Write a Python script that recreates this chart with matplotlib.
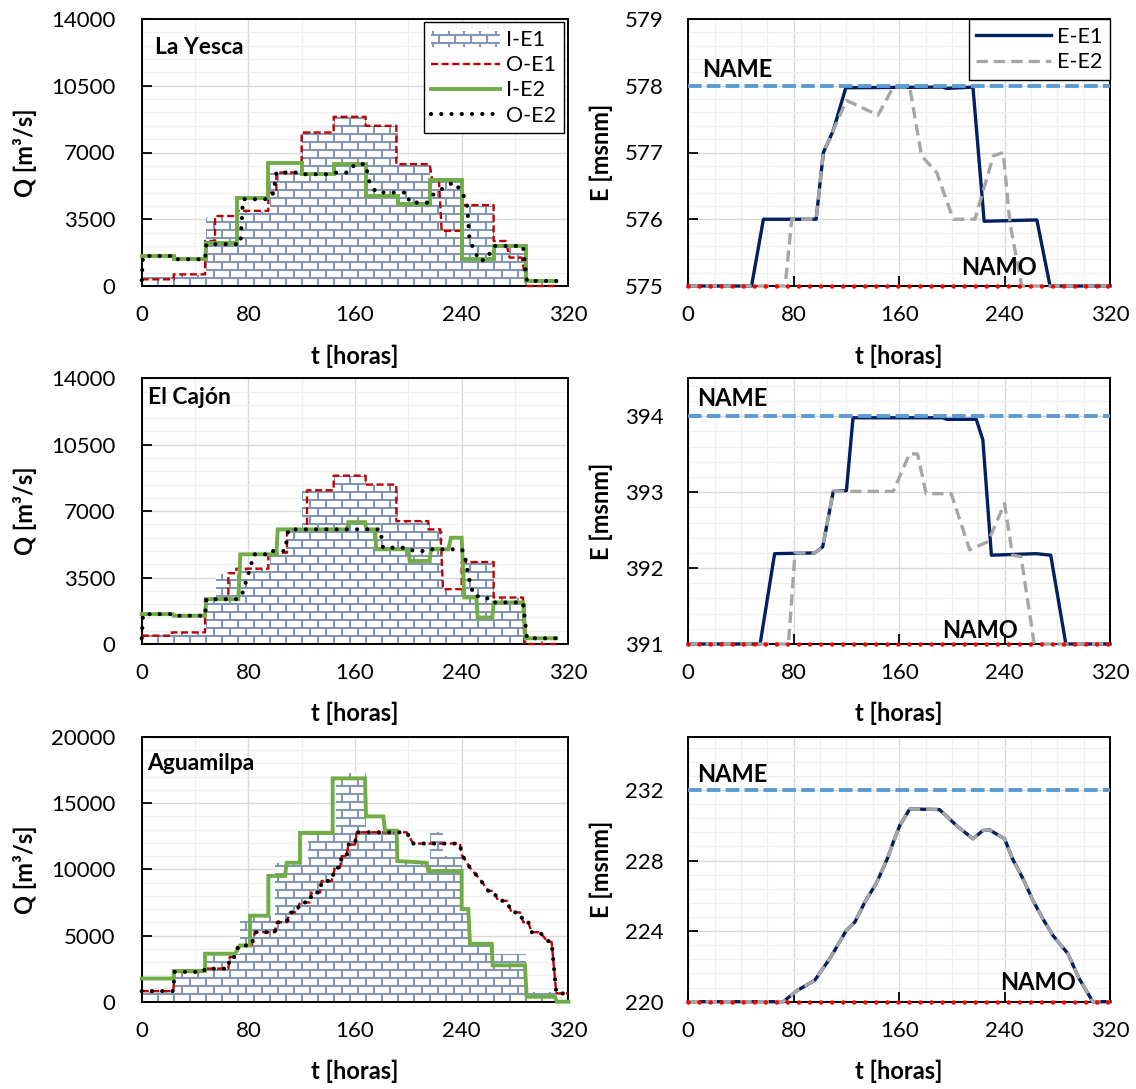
import matplotlib
matplotlib.use("Agg")
import matplotlib.pyplot as plt
from matplotlib.collections import LineCollection
from matplotlib.legend_handler import HandlerBase
from matplotlib.patches import Rectangle
from matplotlib.ticker import MultipleLocator, AutoMinorLocator, StrMethodFormatter

plt.rcParams['font.family'] = ['Lato', 'DejaVu Sans']

# ---------------- data ----------------
hours_ticks = [0, 80, 160, 240, 320]

# La Yesca: inflow/outflow hydrographs
ly_in1_edges = [0, 24, 48, 72, 96, 120, 144, 168, 192, 216, 240, 264, 288, 310]
ly_in1_q = [450, 600, 3600, 3900, 5950, 8050, 8900, 8400, 6400, 5500, 4200, 2200, 250]

ly_out1_t = [0, 24, 24, 47.5, 47.5, 55, 55, 71, 71, 95, 95, 101, 101, 120, 120, 144, 144,
             168, 168, 191, 191, 216, 218, 223, 225, 240, 240, 264, 264, 273, 276, 285, 289, 310]
ly_out1_q = [350, 350, 610, 610, 2360, 2360, 3670, 3670, 3940, 3940, 4900, 4900, 5950, 5950, 8050, 8050, 8870,
             8870, 8400, 8400, 6390, 6390, 5500, 5500, 2890, 2890, 4240, 4240, 2360, 2360, 1490, 1490, 0, 0]

ly_in2_t = [0, 24, 24, 48, 48, 71.5, 71.5, 95, 95, 120, 120, 144, 144, 168, 168, 192, 192,
            216, 216, 240, 240, 264, 264, 288, 288, 311]
ly_in2_q = [1575, 1575, 1400, 1400, 2275, 2275, 4640, 4640, 6475, 6475, 5860, 5860, 6390, 6390, 4725, 4725, 4320,
            4320, 5550, 5550, 1400, 1400, 2100, 2100, 262, 262]

ly_out2_t = [0, 1, 23, 24, 47.5, 48.5, 74, 76, 95, 99, 101, 119, 121, 141, 146, 155, 160, 168, 171, 176,
             199, 201, 214, 219, 225, 231, 235, 241, 244, 246, 250, 253, 259, 263, 265, 286, 289, 311]
ly_out2_q = [300, 1575, 1575, 1400, 1400, 2190, 2190, 4550, 4550, 4900, 5950, 5950, 5860, 5860, 5950, 5950, 6390,
             6390, 5400, 4900, 4900, 4375, 4375, 4810, 5075, 5340, 5425, 4810, 4290, 2360, 1840, 1310, 1400,
             2010, 2100, 2100, 262, 262]

# El Cajón
ec_in1_edges = [0, 24, 48, 56, 72, 96, 108, 120, 144, 168, 192, 216, 226, 240, 264, 288, 310]
ec_in1_q = [450, 610, 2400, 3675, 3970, 4810, 6040, 8140, 8870, 8400, 6475, 6040, 2890, 4320, 2450, 150]

ec_out1_t = [0, 22.5, 22.5, 47.5, 47.5, 65, 65, 71, 71, 95, 95, 109, 109, 124, 124, 144, 144, 168, 168,
             191, 191, 215, 215, 224, 226, 240, 240, 264, 264, 286, 287, 311]
ec_out1_q = [440, 440, 610, 610, 2400, 2400, 3730, 3730, 3970, 3970, 4810, 4810, 6040, 6040, 8100, 8100, 8870,
             8870, 8400, 8400, 6475, 6475, 6040, 6040, 2890, 2890, 4320, 4320, 2450, 2450, 0, 0]

ec_in2_t = [0, 23, 24, 47.5, 48.5, 72.5, 74, 101, 102, 154, 155, 167.5, 168.5, 175, 176, 200, 201,
            216, 217, 230, 232, 240, 242, 251, 252, 263, 264, 286, 288, 311]
ec_in2_q = [1575, 1575, 1490, 1490, 2360, 2360, 4725, 4725, 6040, 6040, 6420, 6420, 6040, 6040, 4990, 4990, 4375,
            4375, 4990, 4990, 5600, 5600, 2450, 2450, 1400, 1400, 2190, 2190, 300, 300]

ec_out2_t = [0, 1, 23, 24, 47.5, 48.5, 72, 75, 81, 82.5, 84, 96, 97, 107.5, 110, 179, 181, 199, 204, 214,
             216, 240, 242, 245, 249, 259, 261, 286, 289, 311]
ec_out2_q = [300, 1575, 1575, 1490, 1490, 2360, 2360, 2540, 3940, 4290, 4725, 4725, 4900, 4900, 6040, 6040, 5075,
             5075, 4900, 4900, 4990, 4990, 4810, 3590, 2540, 2450, 2190, 2190, 300, 300]

# Aguamilpa
ag_in1_edges = [0, 24, 48, 74, 100, 125, 146, 168, 192, 216, 226, 240, 246, 264, 288, 310]
ag_in1_q = [700, 2250, 3600, 6500, 10500, 12750, 17250, 12750, 10600, 12800, 11000, 7000, 4400, 3600, 700]

ag_in2_t = [0, 24, 24, 47.5, 47.5, 70, 73.75, 81.25, 81.25, 95, 95, 107.5, 108.75, 118.75, 118.75, 143.25,
            143.25, 167.5, 168.25, 181.25, 182.5, 191.25, 191.75, 213.75, 215, 240, 240, 245, 246.25, 262.5,
            263.25, 287.5, 288.75, 310, 311.25, 320]
ag_in2_q = [1750, 1750, 2325, 2325, 3625, 3625, 4250, 4250, 6500, 6500, 9500, 9500, 10500, 10500, 12750, 12750,
            16875, 16875, 14000, 14000, 12925, 12925, 10625, 10500, 9875, 9875, 7000, 7000, 4375, 4375,
            2750, 2750, 375, 375, 0, 0]

ag_out_t = [0, 23.75, 24.5, 46.25, 47.5, 65, 66, 70, 72.5, 82.5, 85, 100, 101.25, 108.75, 111.25, 116.25,
            118.75, 126.25, 127.5, 133.75, 135, 142.5, 145, 148.75, 150, 153.75, 155, 160, 161.25, 198.75,
            203.75, 238.75, 240, 246.25, 253.75, 260, 263.75, 267.5, 273.75, 277.5, 283.75, 286.25, 290,
            292.5, 298.75, 303.75, 307.5, 311, 320]
ag_out_q = [800, 800, 2250, 2250, 2500, 2500, 3375, 3375, 4250, 4250, 5250, 5250, 6000, 6000, 6750, 6750,
            7500, 7500, 8250, 8250, 9125, 9125, 10125, 10125, 11000, 11000, 11875, 11875, 12800, 12800,
            11950, 11950, 11125, 10125, 9250, 8375, 8375, 7625, 7625, 6750, 6750, 6000, 6000,
            5250, 5250, 4625, 4500, 625, 625]

# Reservoir levels
ly_e1_t = [0, 48, 57, 97, 102.5, 110, 119.5, 193, 196, 216, 224.5, 264.5, 274.5, 320]
ly_e1_e = [575, 575, 576, 576, 577, 577.33, 577.97, 577.98, 577.96, 577.98, 575.97, 575.99, 575, 575]
ly_e2_t = [0, 73.5, 78.5, 97, 102.5, 110, 120, 144, 155.5, 168, 177, 188.5, 201, 217.5, 231.5, 239, 244, 253, 320]
ly_e2_e = [575, 575, 576, 576, 577, 577.33, 577.78, 577.56, 577.98, 577.98, 576.95, 576.7, 576.0, 576.0,
           576.95, 577.0, 575.95, 575, 575]

ec_e1_t = [0, 54.5, 65.5, 96, 102, 110, 120, 125, 193, 196, 218.5, 223.5, 230, 264, 275, 286.5, 320]
ec_e1_e = [391, 391, 392.19, 392.2, 392.28, 393.01, 393.02, 393.98, 393.98, 393.96, 393.96, 393.69, 392.17,
           392.19, 392.17, 391, 391]
ec_e2_t = [0, 76, 81, 96, 102, 110, 155.5, 168, 174, 180.5, 199.5, 213.5, 227.5, 240, 246, 252.5, 262.5, 320]
ec_e2_e = [391, 391, 392.2, 392.2, 392.28, 393.01, 393.01, 393.51, 393.5, 392.98, 392.98, 392.24, 392.35,
           392.85, 392.17, 392.15, 391, 391]

ag_e_t = [0, 72, 82, 96, 107.5, 120, 126.5, 134, 142.5, 146.5, 151.5, 155.5, 160.5, 168, 190.5, 195.5, 203.5,
          216, 223.5, 228.5, 240, 246, 254, 261.5, 269, 276.5, 288, 296.5, 307, 320]
ag_e_e = [220, 220, 220.6, 221.22, 222.45, 224.05, 224.52, 225.65, 226.69, 227.34, 228.19, 229.04, 229.98,
          230.92, 230.89, 230.55, 229.98, 229.23, 229.7, 229.74, 229.23, 228.1, 226.97, 225.74, 224.71,
          223.77, 222.73, 221.32, 220, 220]

levels_name = [578, 394, 232]
levels_namo = [575, 391, 220]
dam_names = ['La Yesca', 'El Cajón', 'Aguamilpa']

# ---------------- style ----------------
C_BRICK = '#8497B0'
C_RED = '#C00000'
C_GREEN = '#70AD47'
C_NAVY = '#002060'
C_GRAY = '#A6A6A6'
C_BLUE = '#5B9BD5'
C_NAMO = '#FF0000'

TICK_FS = 16
LABEL_FS = 17
LEG_FS = 15.5

FW, FH = 1136, 1089
fig = plt.figure(figsize=(FW / 100, FH / 100), dpi=100, facecolor='white')

col_px = [(141.7, 568.3), (688.3, 1110.0)]
row_px = [(19.0, 286.0), (378.3, 644.0), (737.0, 1001.7)]


def make_axes(col, row):
    x0, x1 = col_px[col]
    y0, y1 = row_px[row]
    ax = fig.add_axes([x0 / FW, 1 - y1 / FH, (x1 - x0) / FW, (y1 - y0) / FH])
    return ax, (x1 - x0), (y1 - y0)


def style_axes(ax, ypad, minor_x):
    ax.set_xlim(0, 320)
    ax.xaxis.set_major_locator(MultipleLocator(80))
    ax.xaxis.set_minor_locator(AutoMinorLocator(minor_x))
    ax.yaxis.set_minor_locator(AutoMinorLocator(5))
    ax.yaxis.set_major_formatter(StrMethodFormatter('{x:.0f}'))
    ax.set_axisbelow(True)
    ax.grid(which='major', color='#D9D9D9', lw=1.0)
    ax.grid(which='minor', color='#EFEFEF', lw=0.9)
    ax.tick_params(which='major', direction='in', length=7, width=1.3, color='black', labelsize=TICK_FS)
    ax.tick_params(axis='x', which='major', pad=14)
    ax.tick_params(axis='y', which='major', pad=ypad)
    ax.tick_params(which='minor', length=0)
    for s in ax.spines.values():
        s.set_linewidth(1.4)
        s.set_color('black')
    ax.set_xlabel('t [horas]', fontsize=LABEL_FS, fontweight='bold')
    ax.xaxis.set_label_coords(0.5, -0.218)


def brick_fill(ax, W, H, edges, values):
    vals = list(values) + [values[-1]]
    fb = ax.fill_between(edges, vals, step='post', facecolor='white', edgecolor='none', lw=0, zorder=1.5)
    row, brick = 8.0, 16.0
    segs = []
    nrows = int(H / row) + 1
    for k in range(nrows + 1):
        y = k * row / H
        segs.append([(0, y), (1, y)])
    for k in range(nrows):
        ya, yb = k * row / H, (k + 1) * row / H
        x = (k % 2) * brick / 2
        while x <= W:
            segs.append([(x / W, ya), (x / W, yb)])
            x += brick
    lc = LineCollection(segs, colors=C_BRICK, linewidths=1.5, transform=ax.transAxes, zorder=1.6)
    ax.add_collection(lc, autolim=False)
    lc.set_clip_path(fb.get_paths()[0], ax.transData)
    return fb


class BrickHandler(HandlerBase):
    def create_artists(self, legend, orig_handle, xdescent, ydescent, width, height, fontsize, trans):
        x0, y0 = -xdescent, -ydescent
        ya, yb = y0 + height * 0.2, y0 + height * 0.72
        bw = 11.5
        segs = [[(x0, ya), (x0 + width, ya)], [(x0, yb), (x0 + width, yb)]]
        x = x0 + bw / 2
        while x < x0 + width:
            segs.append([(x, ya), (x, yb)])
            x += bw
        x = x0 + 1
        while x < x0 + width:
            segs.append([(x, yb), (x, yb + 3.0)])
            segs.append([(x, ya - 3.0), (x, ya)])
            x += bw
        lc = LineCollection(segs, colors=C_BRICK, linewidths=1.5, transform=trans)
        return [lc]


flow_data = [
    (ly_in1_edges, ly_in1_q, ly_out1_t, ly_out1_q, ly_in2_t, ly_in2_q, ly_out2_t, ly_out2_q),
    (ec_in1_edges, ec_in1_q, ec_out1_t, ec_out1_q, ec_in2_t, ec_in2_q, ec_out2_t, ec_out2_q),
    (ag_in1_edges, ag_in1_q, ag_out_t, ag_out_q, ag_in2_t, ag_in2_q, ag_out_t, ag_out_q),
]
flow_ylim = [(0, 14000, 3500), (0, 14000, 3500), (0, 20000, 5000)]
title_pos = [(0.031, 0.894), (0.015, 0.926), (0.012, 0.90)]

level_data = [
    (ly_e1_t, ly_e1_e, ly_e2_t, ly_e2_e),
    (ec_e1_t, ec_e1_e, ec_e2_t, ec_e2_e),
    (ag_e_t, ag_e_e, ag_e_t, ag_e_e),
]
level_ylim = [(575, 579, 1), (391, 394.5, 1), (220, 235, 4)]
name_pos = [(0.032, 0.809), (0.020, 0.924), (0.020, 0.859)]
namo_pos = [(0.648, 0.070), (0.601, 0.050), (0.739, 0.071)]

for r in range(3):
    # ---- discharge panel ----
    ax, W, H = make_axes(0, r)
    in1_e, in1_q, o1_t, o1_q, in2_t, in2_q, o2_t, o2_q = flow_data[r]
    lo, hi, step = flow_ylim[r]
    ax.set_ylim(lo, hi)
    ax.yaxis.set_major_locator(MultipleLocator(step))
    style_axes(ax, ypad=19, minor_x=2)
    ax.set_ylabel('Q [m³/s]', fontsize=LABEL_FS, fontweight='bold')
    ax.yaxis.set_label_coords(-0.246, 0.5)
    ax.set_xticks(hours_ticks)

    brick_fill(ax, W, H, in1_e, in1_q)
    l_o1, = ax.plot(o1_t, o1_q, color=C_RED, lw=1.7, ls=(0, (3.0, 1.5)), zorder=2.6, clip_on=False)
    l_i2, = ax.plot(in2_t, in2_q, color=C_GREEN, lw=2.8, zorder=2.7, clip_on=False,
                    solid_joinstyle='miter')
    l_o2, = ax.plot(o2_t, o2_q, color='black', lw=3.0, ls=(0, (0.01, 2.45)), dash_capstyle='round',
                    zorder=2.8, clip_on=False)
    ax.text(*title_pos[r], dam_names[r], transform=ax.transAxes, fontsize=16.5, fontweight='bold',
            ha='left', va='center')

    if r == 0:
        brick_handle = Rectangle((0, 0), 1, 1)
        leg = ax.legend([brick_handle, l_o1, l_i2, l_o2], ['I-E1', 'O-E1', 'I-E2', 'O-E2'],
                        handler_map={brick_handle: BrickHandler()},
                        loc='upper right', bbox_to_anchor=(0.99, 0.987), borderaxespad=0,
                        fontsize=LEG_FS, handlelength=3.2, handletextpad=0.3, labelspacing=0.24,
                        borderpad=0.35, fancybox=False, framealpha=1, edgecolor='black')
        leg.get_frame().set_linewidth(1.0)
        leg.set_zorder(5)

    # ---- water level panel ----
    ax, W, H = make_axes(1, r)
    e1_t, e1_e, e2_t, e2_e = level_data[r]
    lo, hi, step = level_ylim[r]
    ax.set_ylim(lo, hi)
    ax.yaxis.set_major_locator(MultipleLocator(step))
    style_axes(ax, ypad=18, minor_x=4)
    ax.set_ylabel('E [msnm]', fontsize=LABEL_FS, fontweight='bold')
    ax.yaxis.set_label_coords(-0.178, 0.5)
    ax.set_xticks(hours_ticks)

    l_e1, = ax.plot(e1_t, e1_e, color=C_NAVY, lw=2.4, zorder=2.6, clip_on=False)
    l_e2, = ax.plot(e2_t, e2_e, color=C_GRAY, lw=2.4, ls=(0, (3.4, 1.8)), zorder=2.7, clip_on=False)
    ax.plot([0, 320], [levels_name[r]] * 2, color=C_BLUE, lw=2.8, ls=(0, (3.5, 1.35)), zorder=2.8,
            clip_on=False)
    ax.plot([0, 320], [levels_namo[r]] * 2, color=C_NAMO, lw=3.3, ls=(0, (0.01, 2.4)),
            dash_capstyle='round', zorder=3.0, clip_on=False)
    ax.text(*name_pos[r], 'NAME', transform=ax.transAxes, fontsize=17, fontweight='bold',
            ha='left', va='center')
    ax.text(*namo_pos[r], 'NAMO', transform=ax.transAxes, fontsize=17, fontweight='bold',
            ha='left', va='center')

    if r == 0:
        leg = ax.legend([l_e1, l_e2], ['E-E1', 'E-E2'], loc='upper right', bbox_to_anchor=(1.0, 1.0),
                        borderaxespad=0, fontsize=LEG_FS, handlelength=3.45, handletextpad=0.3,
                        labelspacing=0.26, borderpad=0.35, fancybox=False, framealpha=1,
                        edgecolor='black')
        leg.get_frame().set_linewidth(1.0)
        leg.set_zorder(5)

fig.savefig('out.png', dpi=100, facecolor='white')
